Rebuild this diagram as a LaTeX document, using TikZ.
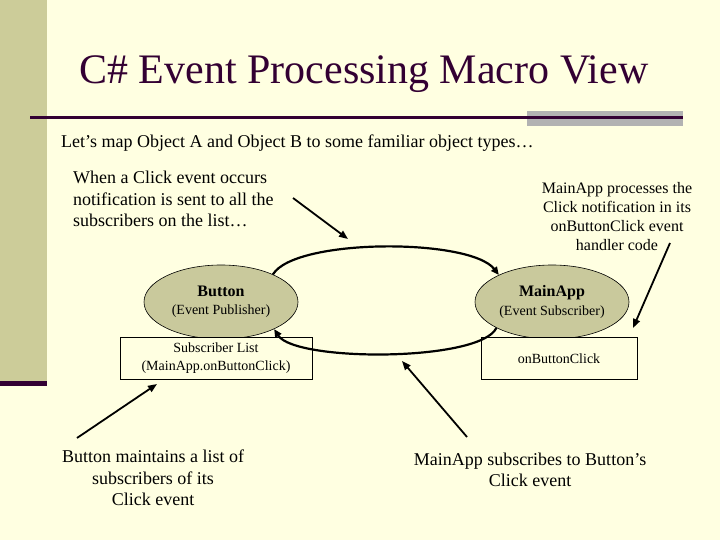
\documentclass[tikz,border=0pt]{standalone}
\usepackage{fontspec}
\setmainfont{Liberation Serif}
\usetikzlibrary{arrows.meta, positioning, shapes.geometric}
\definecolor{slideCream}{HTML}{FFFFE1}
\definecolor{slideOlive}{HTML}{CCCC99}
\definecolor{slidePlum}{HTML}{330033}
\definecolor{slideGrey}{HTML}{B2B2B2}
\definecolor{ovalFill}{HTML}{C9C99C}

\begin{document}
\begin{tikzpicture}[x=1pt, y=-1pt,
    headline/.style={font=\fontsize{42}{50}\selectfont, text=slidePlum, inner sep=0pt},
    bodytext/.style={font=\fontsize{18}{21.6}\selectfont, inner sep=0pt},
    sidenote/.style={font=\fontsize{16}{19}\selectfont, align=center, inner sep=0pt},
    actor/.style={ellipse, draw=black, line width=0.6pt, fill=ovalFill, minimum width=154pt, minimum height=74pt, align=center, inner sep=0pt, font=\fontsize{14}{18.5}\selectfont},
    slot/.style={draw=black, line width=0.6pt, fill=slideCream, minimum height=42pt, align=center, inner sep=0pt, font=\fontsize{14}{18}\selectfont},
    flow/.style={-{Triangle[length=8pt, width=7pt]}, line width=2.2pt},
    pointer/.style={-{Triangle[length=9pt, width=7pt]}, line width=1.8pt}
]
    % slide background and decoration
    \fill[slideCream] (0,0) rectangle (720,540);
    \useasboundingbox (0,0) rectangle (720,540);
    \fill[slideOlive] (0,0) rectangle (47,383);
    \fill[slidePlum] (0,381) rectangle (47,386);
    \fill[slideGrey] (527,111) rectangle (683,126);
    \fill[slidePlum] (30,116) rectangle (683,119.5);

    \node[headline, anchor=base] (title) at (364,84) {C\# Event Processing Macro View};
    \node[bodytext, anchor=base west] (intro) at (61,148) {Let’s map Object A and Object B to some familiar object types…};

    \node[bodytext, align=left, anchor=west] (notify) at (73,199) {When a Click event occurs\\notification is sent to all the\\subscribers on the list…};
    \node[sidenote] (process) at (617,217) {MainApp processes the\\Click notification in its\\onButtonClick event\\handler code};

    % publisher and subscriber
    \node[actor] (btn) at (221,302) {\textbf{\fontsize{16}{18}\selectfont Button}\\(Event Publisher)};
    \node[actor] (app) at (552,302) {\textbf{\fontsize{16}{18}\selectfont MainApp}\\(Event Subscriber)};
    \node[slot, minimum width=192pt, below=-2pt of btn, xshift=-5pt] (sublist) {Subscriber List\\(MainApp.onButtonClick)};
    \node[slot, minimum width=156pt, below=-2pt of app, xshift=7pt] (handler) {onButtonClick};

    \draw[flow] (btn.28) .. controls (295,238) and (470,238) .. (app.153);
    \draw[flow] (app.205) .. controls (480,362) and (295,362) .. (btn.333);

    \node[bodytext, align=center] (maintain) at (153,478) {Button maintains a list of\\subscribers of its\\Click event};
    \node[bodytext, align=center] (subscribe) at (530,470) {MainApp subscribes to Button’s\\Click event};

    % pointers from the notes
    \coordinate (clickTail) at (293,198);
    \coordinate (clickTip) at (348,239);
    \coordinate (handlerTail) at (670,243);
    \coordinate (handlerTip) at (633,328);
    \coordinate (listTail) at (77,438);
    \coordinate (listTip) at (157,384);
    \coordinate (subscribeTail) at (467,437);
    \coordinate (subscribeTip) at (402,361);

    \draw[pointer] (clickTail) -- (clickTip);
    \draw[pointer] (handlerTail) -- (handlerTip);
    \draw[pointer] (listTail) -- (listTip);
    \draw[pointer] (subscribeTail) -- (subscribeTip);
\end{tikzpicture}
\end{document}
